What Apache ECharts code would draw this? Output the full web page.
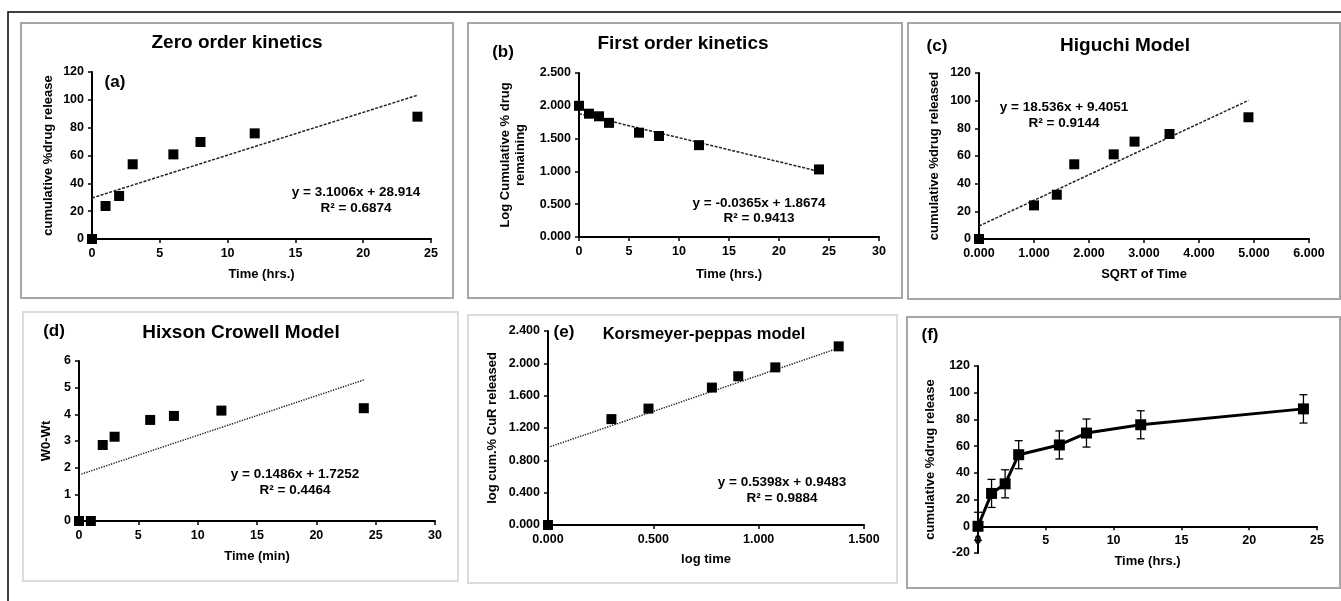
<!DOCTYPE html>
<html>
<head>
<meta charset="utf-8">
<title>Drug release kinetics</title>
<script src="https://cdn.jsdelivr.net/npm/echarts@6/dist/echarts.min.js"></script>
<style>
body {
  margin: 0;
  background-color: #ffffff;
}
#chart {
  width: 1341px;
  height: 601px;
}
</style>
</head>
<body>
<div id="chart"></div>
<script>
// sampling times (hrs.)
const timeH = [0, 1, 2, 3, 6, 8, 12, 24];
// (a) zero order
const releaseA = [0, 23.7, 30.9, 53.7, 60.8, 69.7, 75.9, 87.9];
const trendA = [[0, 29.5], [24, 103.3]];
// (b) first order
const logRemainB = [2.0, 1.88, 1.84, 1.74, 1.59, 1.54, 1.40, 1.03];
const trendB = [[0, 1.88], [24, 1.0]];
// (c) higuchi
const sqrtTimeC = [0, 1.0, 1.414, 1.732, 2.449, 2.828, 3.464, 4.899];
const releaseC = [0, 24.3, 32.0, 54.0, 61.2, 70.4, 75.9, 88.0];
const trendC = [[0, 9.4], [4.9, 100.2]];
// (d) hixson crowell
const hixsonD = [0, 0, 2.85, 3.16, 3.79, 3.94, 4.14, 4.23];
const trendD = [[0.2, 1.76], [24, 5.29]];
// (e) korsmeyer-peppas
const logTimeE = [0, 0.301, 0.477, 0.778, 0.903, 1.079, 1.380];
const logReleaseE = [0, 1.31, 1.44, 1.70, 1.84, 1.95, 2.21];
const trendE = [[0, 0.96], [1.37, 2.18]];
// (f) release profile with error bars
const releaseF = [0, 24.6, 31.8, 53.6, 60.9, 69.8, 76.0, 87.9];
const errorF = [10.5, 10.5, 10.5, 10.5, 10.5, 10.5, 10.5, 10.6];

const FONT = "'Liberation Sans', Arial, sans-serif";
const DASHED = [3, 1.5];
const DOTTED = [1.3, 1.3];

function zip(xs, ys) {
  return ys.map((y, i) => [xs[i], y]);
}

function axis(opt) {
  let a = {
    type: "value",
    splitLine: { show: false },
    axisLine: { show: true, lineStyle: { color: "#000", width: 2 } },
    axisTick: { show: true, length: 4, lineStyle: { color: "#000", width: 1.5 } },
    axisLabel: { color: "#000", fontWeight: "bold", fontSize: 12.5, fontFamily: FONT, margin: 8 },
    nameLocation: "middle",
    nameTextStyle: { color: "#000", fontWeight: "bold", fontSize: 13, fontFamily: FONT, lineHeight: 15 }
  };
  if (opt.digits) {
    const d = opt.digits;
    a.axisLabel.formatter = v => v.toFixed(d);
    delete opt.digits;
  }
  if (opt.offset) {
    // x axis drawn through y = 0 instead of the grid bottom
    a.axisLine.onZero = false;
  }
  return Object.assign(a, opt);
}

function scatter(i, data) {
  return {
    type: "scatter",
    xAxisIndex: i,
    yAxisIndex: i,
    data: data,
    symbol: "rect",
    symbolSize: 10,
    itemStyle: { color: "#000", opacity: 1 },
    z: 5
  };
}

function trend(i, data, dash) {
  return {
    type: "line",
    xAxisIndex: i,
    yAxisIndex: i,
    data: data,
    symbol: "none",
    lineStyle: { color: "#222", width: 1.5, type: dash },
    z: 3
  };
}

function txt(x, y, text, size) {
  return {
    type: "text",
    x: x,
    y: y,
    style: {
      text: text,
      font: "bold " + size + "px " + FONT,
      fill: "#000",
      textAlign: "center",
      textVerticalAlign: "middle"
    }
  };
}

function box(x, y, w, h, color) {
  return {
    type: "rect",
    shape: { x: x, y: y, width: w, height: h },
    style: { fill: "none", stroke: color, lineWidth: 2 },
    z: -1
  };
}

let chart = echarts.init(document.getElementById("chart"));
chart.setOption({
  animation: false,
  backgroundColor: "#ffffff",
  grid: [
    { left: 92, top: 72, width: 339, height: 167 },
    { left: 579, top: 73, width: 300, height: 164 },
    { left: 979, top: 73, width: 330, height: 166 },
    { left: 79, top: 361, width: 356, height: 160 },
    { left: 548, top: 331, width: 316, height: 194 },
    { left: 978, top: 366, width: 339, height: 187 }
  ],
  xAxis: [
    axis({ gridIndex: 0, min: 0, max: 25, interval: 5, name: "Time (hrs.)", nameGap: 28 }),
    axis({ gridIndex: 1, min: 0, max: 30, interval: 5, name: "Time (hrs.)", nameGap: 30 }),
    axis({ gridIndex: 2, min: 0, max: 6, interval: 1, digits: 3, name: "SQRT of Time", nameGap: 28 }),
    axis({ gridIndex: 3, min: 0, max: 30, interval: 5, name: "Time (min)", nameGap: 28 }),
    axis({ gridIndex: 4, min: 0, max: 1.5, interval: 0.5, digits: 3, name: "log time", nameGap: 27 }),
    axis({ gridIndex: 5, min: 0, max: 25, interval: 5, name: "Time (hrs.)", nameGap: 28, offset: -26.7 })
  ],
  yAxis: [
    axis({ gridIndex: 0, min: 0, max: 120, interval: 20, name: "cumulative %drug release", nameGap: 36 }),
    axis({ gridIndex: 1, min: 0, max: 2.5, interval: 0.5, digits: 3, name: "Log Cumulative % drug\nremaining", nameGap: 51 }),
    axis({ gridIndex: 2, min: 0, max: 120, interval: 20, name: "cumulative %drug released", nameGap: 37 }),
    axis({ gridIndex: 3, min: 0, max: 6, interval: 1, name: "W0-Wt", nameGap: 25 }),
    axis({ gridIndex: 4, min: 0, max: 2.4, interval: 0.4, digits: 3, name: "log cum.% CuR released", nameGap: 48 }),
    axis({ gridIndex: 5, min: -20, max: 120, interval: 20, name: "cumulative %drug release", nameGap: 40 })
  ],
  series: [
    trend(0, trendA, DASHED),
    scatter(0, zip(timeH, releaseA)),
    trend(1, trendB, DASHED),
    scatter(1, zip(timeH, logRemainB)),
    trend(2, trendC, DASHED),
    scatter(2, zip(sqrtTimeC, releaseC)),
    trend(3, trendD, DOTTED),
    scatter(3, zip(timeH, hixsonD)),
    trend(4, trendE, DOTTED),
    scatter(4, zip(logTimeE, logReleaseE)),
    {
      type: "line",
      xAxisIndex: 5,
      yAxisIndex: 5,
      data: zip(timeH, releaseF),
      symbol: "rect",
      symbolSize: 11,
      lineStyle: { color: "#000", width: 3 },
      itemStyle: { color: "#000", opacity: 1 },
      z: 4
    },
    {
      type: "custom",
      xAxisIndex: 5,
      yAxisIndex: 5,
      encode: { x: 0, y: 1 },
      data: timeH.map((t, i) => [t, releaseF[i], errorF[i]]),
      renderItem: function (params, api) {
        const x = api.value(0);
        const y = api.value(1);
        const e = api.value(2);
        const top = api.coord([x, y + e]);
        const bot = api.coord([x, y - e]);
        const w = 4;
        const st = { stroke: "#000", lineWidth: 1.3 };
        return {
          type: "group",
          children: [
            { type: "line", shape: { x1: top[0], y1: top[1], x2: bot[0], y2: bot[1] }, style: st },
            { type: "line", shape: { x1: top[0] - w, y1: top[1], x2: top[0] + w, y2: top[1] }, style: st },
            { type: "line", shape: { x1: bot[0] - w, y1: bot[1], x2: bot[0] + w, y2: bot[1] }, style: st }
          ]
        };
      },
      z: 3
    }
  ],
  graphic: [
    // outer frame
    { type: "polyline", shape: { points: [[8, 601], [8, 12], [1341, 12]] }, style: { stroke: "#000", lineWidth: 1.5, fill: "none" } },
    box(21, 23, 432, 275, "#a6a6a6"),
    box(468, 23, 434, 275, "#a6a6a6"),
    box(908, 23, 432, 276, "#a6a6a6"),
    box(23, 312, 435, 269, "#dcdcdc"),
    box(468, 315, 429, 268, "#dcdcdc"),
    box(907, 317, 433, 271, "#a6a6a6"),
    // titles and labels
    txt(237, 43, "Zero order kinetics", 19),
    txt(115, 82, "(a)", 17),
    txt(356, 192, "y = 3.1006x + 28.914", 13.5),
    txt(356, 208, "R² = 0.6874", 13.5),
    txt(683, 44, "First order kinetics", 19),
    txt(503, 52, "(b)", 17),
    txt(759, 203, "y = -0.0365x + 1.8674", 13.5),
    txt(759, 218, "R² = 0.9413", 13.5),
    txt(1125, 46, "Higuchi Model", 19),
    txt(937, 46, "(c)", 17),
    txt(1064, 107, "y = 18.536x + 9.4051", 13.5),
    txt(1064, 123, "R² = 0.9144", 13.5),
    txt(241, 333, "Hixson Crowell Model", 19),
    txt(54, 331, "(d)", 17),
    txt(295, 474, "y = 0.1486x + 1.7252", 13.5),
    txt(295, 490, "R² = 0.4464", 13.5),
    txt(704, 334, "Korsmeyer-peppas model", 16.5),
    txt(564, 332, "(e)", 17),
    txt(782, 482, "y = 0.5398x + 0.9483", 13.5),
    txt(782, 498, "R² = 0.9884", 13.5),
    txt(930, 335, "(f)", 17)
  ]
});
</script>
</body>
</html>
